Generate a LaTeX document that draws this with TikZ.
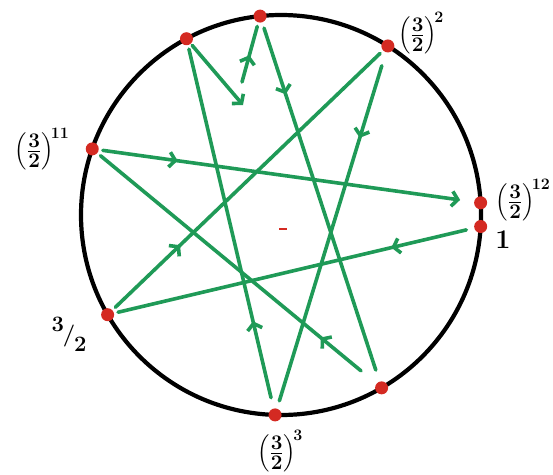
\documentclass[tikz,border=0pt]{standalone}
\usepackage{amsmath}
\usetikzlibrary{arrows.meta, calc, decorations.markings}
\definecolor{penGreen}{HTML}{1F9A57}
\definecolor{dotRed}{HTML}{D42A22}
\newcommand{\powfrac}[1]{$\left({{\textstyle 3}\above 1.6pt{\textstyle 2}}\right)^{\!\mbox{\fontsize{16}{16}\selectfont\bfseries #1}}$}

\begin{document}
\begin{tikzpicture}[
x=1pt, y=1pt,
dot/.style={circle, fill=dotRed, minimum size=13pt, inner sep=0pt},
link/.style={penGreen, line width=3.6pt, line cap=round, shorten <=4pt, shorten >=4pt},
midarrow/.style={postaction={decorate}, decoration={markings, mark=at position #1 with {\arrow{Straight Barb[length=6pt,width=15pt]}}}},
tip/.style={-{Straight Barb[length=6pt,width=15pt]}},
lbl/.style={font=\fontsize{21}{24}\selectfont\boldmath, inner sep=0pt}
]
\useasboundingbox (-281,-259) rectangle (272,215);
\draw[line width=4.2pt] (0,0) circle[radius=200pt];

% points (3/2)^k on the circle
\node[dot] (p0) at (-3.3:200pt) {};
\node[dot] (p1) at (209.9:200pt) {};
\node[dot] (p2) at (57.7:200pt) {};
\node[dot] (p3) at (268.3:200pt) {};
\node[dot] (p4) at (118.2:200pt) {};
\node[dot] (p9) at (96:200pt) {};
\node[dot] (p10) at (300.2:200pt) {};
\node[dot] (p11) at (160.7:200pt) {};
\node[dot] (p12) at (3.5:200pt) {};
\node[draw=dotRed, line width=1.2pt, minimum width=6pt, inner sep=0pt] (mid) at (2,-14) {};

% labels
\node[lbl] (h0) at (222,-25) {\fontsize{27}{30}\selectfont\bfseries 1};
\node[lbl] (h1) at (-212,-119) {\fontsize{22}{25}\selectfont\bfseries\raisebox{0.45em}{3}\kern-0.05em/\kern-0.05em\raisebox{-0.45em}{2}};
\node[lbl] (h2) at (140,182) {\powfrac{2}};
\node[lbl] (h3) at (-1,-236) {\powfrac{3}};
\node[lbl] (h11) at (-239,66) {\powfrac{11}};
\node[lbl] (h12) at (242,15) {\powfrac{12}};

% free ends
\coordinate (q5) at (-38,110);
\coordinate (q8) at (-39,133);

% the chain of fifths
\draw[link, midarrow=0.23, shorten <=8pt] (p0) -- (p1);
\draw[link, midarrow=0.25] (p1) -- (p2);
\draw[link, midarrow=0.24, shorten <=14pt, shorten >=8pt] (p2) -- (p3);
\draw[link, midarrow=0.24, shorten <=11pt] (p3) -- (p4);
\draw[link, tip, shorten <=2pt, shorten >=0pt] (p4) -- (q5);
\draw[link, midarrow=0.45, shorten <=0pt] (q8) -- (p9);
\draw[link, midarrow=0.2, shorten <=6pt, shorten >=12pt] (p9) -- (p10);
\draw[link, midarrow=0.2, shorten <=20pt] (p10) -- (p11);
\draw[link, midarrow=0.21, tip, shorten >=14pt] (p11) -- (p12);
\end{tikzpicture}
\end{document}
